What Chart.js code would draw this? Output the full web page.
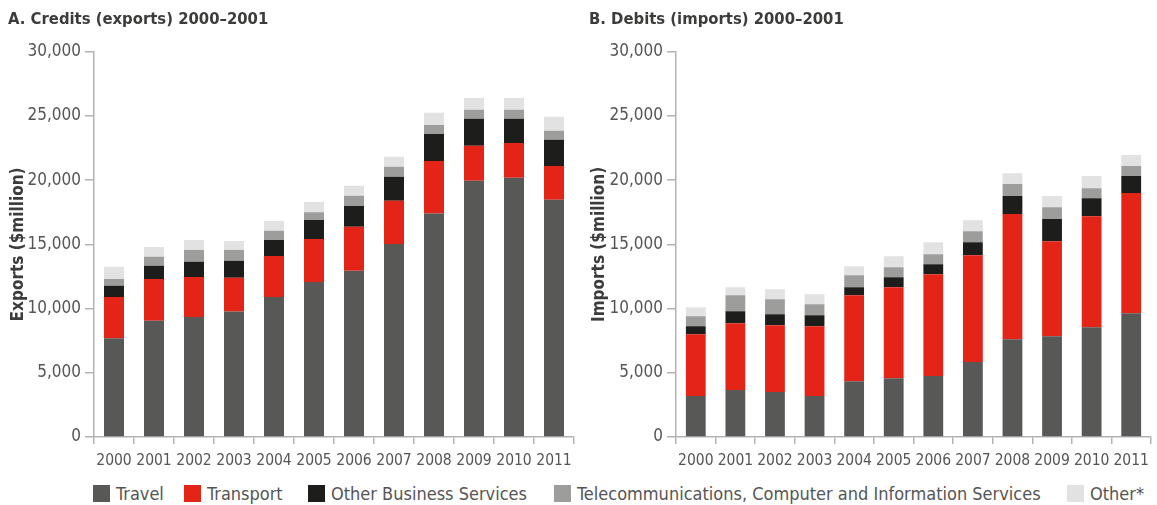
<!DOCTYPE html>
<html>
<head>
<meta charset="utf-8">
<script src="https://cdn.jsdelivr.net/npm/chart.js@4.4.1/dist/chart.umd.min.js"></script>
<style>
  body { margin: 0; background: #fff; width: 1157px; height: 505px; position: relative; overflow: hidden; }
  .box { position: absolute; top: 0; height: 475px; }
  #legend { position: absolute; top: 485px; left: 0; width: 1157px; height: 20px;
            font-family: 'Liberation Sans Narrow', 'DejaVu Sans Condensed', Roboto, sans-serif;
            font-size: 18px; color: #555; }
  .item { position: absolute; top: 0; white-space: nowrap; line-height: 17px; }
  .item span { display: inline-block; width: 17px; height: 17px; vertical-align: top; margin-right: 6px; }
</style>
</head>
<body>
<div class="box" style="left:0;width:580px"><canvas id="credits"></canvas></div>
<div class="box" style="left:580px;width:577px"><canvas id="debits"></canvas></div>
<div id="legend"></div>
<script>
const years = ['2000', '2001', '2002', '2003', '2004', '2005', '2006', '2007', '2008', '2009', '2010', '2011'];
const seriesNames = ['Travel', 'Transport', 'Other Business Services',
    'Telecommunications, Computer and Information Services', 'Other*'];
const seriesColors = ['#585857', '#e32417', '#1d1d1b', '#9d9d9c', '#e2e2e2'];

// exports ($million), per category
const exportsTravel    = [7700, 9050, 9350, 9770, 10900, 12080, 12940, 15040, 17400, 19950, 20200, 18470];
const exportsTransport = [3200, 3250, 3120, 2630, 3200, 3350, 3430, 3360, 4100, 2730, 2700, 2630];
const exportsBusiness  = [870, 1030, 1170, 1320, 1250, 1470, 1630, 1860, 2100, 2100, 1880, 2050];
const exportsTelecom   = [530, 700, 930, 850, 710, 600, 780, 780, 700, 700, 700, 700];
const exportsOther     = [950, 770, 780, 700, 770, 800, 780, 780, 950, 920, 920, 1090];

// imports ($million)
const importsTravel    = [3200, 3660, 3500, 3200, 4340, 4570, 4750, 5850, 7610, 7850, 8550, 9640];
const importsTransport = [4800, 5200, 5200, 5430, 6700, 7100, 7930, 8310, 9750, 7400, 8650, 9360];
const importsBusiness  = [630, 940, 860, 850, 630, 780, 780, 1010, 1400, 1720, 1400, 1320];
const importsTelecom   = [770, 1240, 1170, 860, 930, 780, 780, 860, 940, 930, 780, 780];
const importsOther     = [700, 630, 770, 780, 700, 850, 930, 860, 850, 860, 940, 860];

const yTicks = [0, 5000, 10000, 15000, 20000, 25000, 30000];

const fontStack = "'Liberation Sans Narrow', 'DejaVu Sans Condensed', Roboto, sans-serif";
const axisColor = '#b3b3b3';

function makeChart(id, title, yTitle, series, padLeft, axisWidth, padRight) {
    return new Chart(document.getElementById(id), {
        type: 'bar',
        data: {
            labels: years,
            datasets: series.map((values, i) => ({
                label: seriesNames[i],
                data: values,
                backgroundColor: seriesColors[i],
                barPercentage: 0.5,
                categoryPercentage: 1.0
            }))
        },
        options: {
            responsive: true,
            maintainAspectRatio: false,
            animation: false,
            layout: { padding: { left: padLeft, right: padRight, top: 0, bottom: 0 } },
            scales: {
                x: {
                    stacked: true,
                    afterFit: (scale) => { scale.height = 38; },
                    border: { display: true, color: axisColor, width: 1.5 },
                    grid: { display: true, drawOnChartArea: false, color: axisColor, tickLength: 7, lineWidth: 1.5 },
                    ticks: {
                        color: '#555', padding: 8, maxRotation: 0, minRotation: 0, autoSkip: false,
                        font: { family: fontStack, size: 15.5 }
                    }
                },
                y: {
                    stacked: true,
                    min: 0,
                    max: 30000,
                    afterFit: (scale) => { scale.width = axisWidth; },
                    afterBuildTicks: (scale) => { scale.ticks = yTicks.map(v => ({ value: v })); },
                    border: { display: true, color: axisColor, width: 1.5 },
                    grid: { display: true, drawOnChartArea: false, color: axisColor, tickLength: 9, lineWidth: 1.5 },
                    ticks: {
                        color: '#555',
                        padding: 4,
                        font: { family: fontStack, size: 17 },
                        callback: (value) => value.toLocaleString('en-US')
                    },
                    title: {
                        display: true,
                        text: yTitle,
                        color: '#3c3c3b',
                        padding: { top: 0, bottom: 0 },
                        font: { family: fontStack, size: 17, weight: 'bold' }
                    }
                }
            },
            plugins: {
                legend: { display: false },
                tooltip: { enabled: false },
                title: {
                    display: true,
                    text: title,
                    align: 'start',
                    color: '#3c3c3b',
                    padding: { top: 10, bottom: 22 },
                    font: { family: fontStack, size: 16.5, weight: 'bold' }
                }
            }
        }
    });
}

makeChart('credits', 'A. Credits (exports) 2000\u20132001', 'Exports ($million)',
    [exportsTravel, exportsTransport, exportsBusiness, exportsTelecom, exportsOther], 8, 86, 6);
makeChart('debits', 'B. Debits (imports) 2000\u20132001', 'Imports ($million)',
    [importsTravel, importsTransport, importsBusiness, importsTelecom, importsOther], 9, 87, 1);

// shared legend under both panels
const legendLeft = [93, 184, 308, 554, 1067];
const legendEl = document.getElementById('legend');
seriesNames.forEach((name, i) => {
    const item = document.createElement('div');
    item.className = 'item';
    item.style.left = legendLeft[i] + 'px';
    item.innerHTML = '<span style="background:' + seriesColors[i] + '"></span>' + name;
    legendEl.appendChild(item);
});
</script>
</body>
</html>
